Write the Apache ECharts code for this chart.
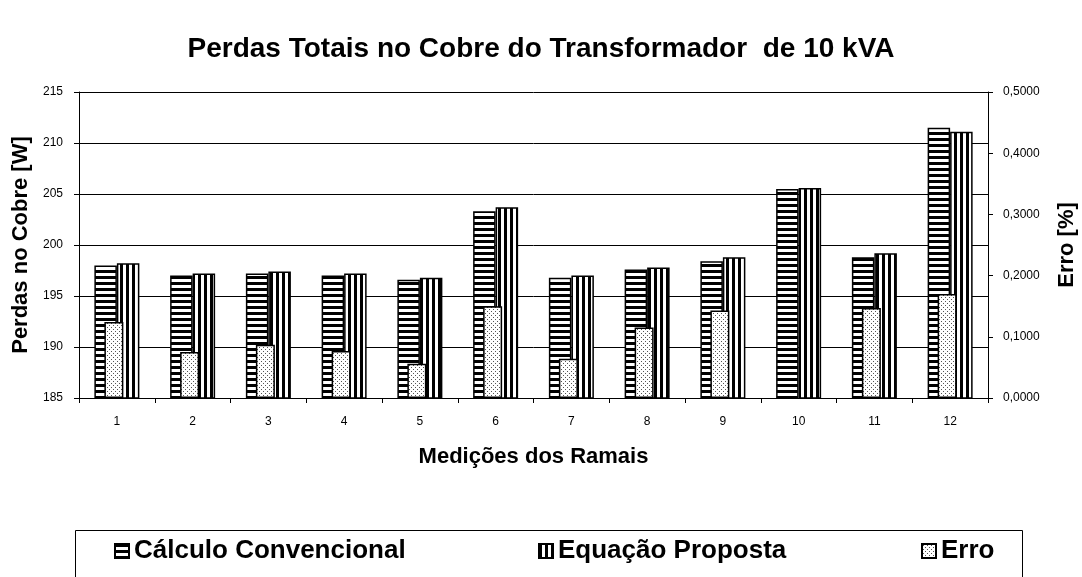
<!DOCTYPE html>
<html>
<head>
<meta charset="utf-8">
<title>Perdas Totais no Cobre</title>
<script src="https://cdn.jsdelivr.net/npm/echarts@6/dist/echarts.min.js"></script>
<style>
  html, body { margin: 0; padding: 0; background: #fff; }
  #chart { width: 1082px; height: 577px; }
</style>
</head>
<body>
<div id="chart"></div>
<script>
// dados
const categorias = ['1', '2', '3', '4', '5', '6', '7', '8', '9', '10', '11', '12'];
const calculoConvencional = [198.0, 197.0, 197.2, 197.0, 196.6, 203.3, 196.8, 197.6, 198.4, 205.5, 198.8, 211.5];
const equacaoProposta = [198.2, 197.2, 197.4, 197.2, 196.8, 203.7, 197.0, 197.8, 198.8, 205.6, 199.2, 211.1];
const erro = [0.124, 0.075, 0.087, 0.077, 0.056, 0.150, 0.064, 0.115, 0.143, null, 0.147, 0.170];
const ticksPerdas = [185, 215, 5];   // min, max, intervalo
const ticksErro = [0, 0.5, 0.1];

const FONT = "'Liberation Sans', Arial, sans-serif";

// a legenda do original usa uma fonte estreita
function temFonte(nome) {
    const ctx = document.createElement('canvas').getContext('2d');
    ctx.font = 'bold 40px monospace';
    const w1 = ctx.measureText('Cálculo Convencional').width;
    ctx.font = "bold 40px '" + nome + "', monospace";
    return ctx.measureText('Cálculo Convencional').width !== w1;
}
const narrow = temFonte('Liberation Sans Narrow');
const legendaFonte = narrow ? "'Liberation Sans Narrow', " + FONT : FONT;
const legendaTamanho = narrow ? 31 : 26;

// padrões de preenchimento (hachuras)
function hachura(tipo) {
    const c = document.createElement('canvas');
    const ctx = c.getContext('2d');
    if (tipo === 'horizontal') {
        c.width = 6; c.height = 6;
        ctx.fillStyle = '#fff'; ctx.fillRect(0, 0, 6, 6);
        ctx.fillStyle = '#000'; ctx.fillRect(0, 0, 6, 3);
    } else if (tipo === 'vertical') {
        c.width = 6; c.height = 6;
        ctx.fillStyle = '#fff'; ctx.fillRect(0, 0, 6, 6);
        ctx.fillStyle = '#000'; ctx.fillRect(0, 0, 3, 6);
    } else {
        c.width = 4; c.height = 4;
        ctx.fillStyle = '#fff'; ctx.fillRect(0, 0, 4, 4);
        ctx.fillStyle = '#555';
        ctx.fillRect(1, 1, 1, 1);
        ctx.fillRect(3, 3, 1, 1);
    }
    return { image: c, repeat: 'repeat' };
}

function legenda(nome, esquerda) {
    return {
        data: [nome],
        left: esquerda,
        top: 538,
        padding: 0,
        icon: 'rect',
        itemWidth: 14,
        itemHeight: 14,
        textStyle: { fontFamily: legendaFonte, fontSize: legendaTamanho, fontWeight: 'bold', color: '#000' }
    };
}

const chart = echarts.init(document.getElementById('chart'));

const option = {
    animation: false,
    backgroundColor: '#fff',
    textStyle: { fontFamily: FONT, color: '#000' },
    title: {
        text: 'Perdas Totais no Cobre do Transformador  de 10 kVA',
        left: 'center',
        top: 30,
        textStyle: { fontFamily: FONT, fontSize: 28, fontWeight: 'bold', color: '#000' }
    },
    legend: [
        legenda('Cálculo Convencional', 114),
        legenda('Equação Proposta', 538),
        legenda('Erro', 921)
    ],
    graphic: [{
        type: 'rect',
        left: 73,
        top: 528,
        shape: { width: 947, height: 80 },
        style: { fill: 'none', stroke: '#000', lineWidth: 1 },
        silent: true
    }],
    grid: { left: 79, right: 94, top: 92, bottom: 179, outerBoundsMode: 'none' },
    xAxis: [
        {
            type: 'category',
            data: categorias,
            name: 'Medições dos Ramais',
            nameLocation: 'middle',
            nameGap: 48,
            nameTextStyle: { fontFamily: FONT, fontSize: 22, fontWeight: 'bold', color: '#000' },
            axisLine: { lineStyle: { color: '#000', width: 1 } },
            axisTick: { show: true, length: 5, lineStyle: { color: '#000' } },
            axisLabel: { fontFamily: FONT, fontSize: 12, color: '#000', margin: 18 }
        },
        {
            type: 'category',
            data: categorias,
            show: false
        }
    ],
    yAxis: [
        {
            type: 'value',
            min: ticksPerdas[0],
            max: ticksPerdas[1],
            interval: ticksPerdas[2],
            position: 'left',
            name: 'Perdas no Cobre [W]',
            nameLocation: 'middle',
            nameRotate: 90,
            nameGap: 45,
            nameTextStyle: { fontFamily: FONT, fontSize: 22, fontWeight: 'bold', color: '#000' },
            axisLine: { show: true, lineStyle: { color: '#000', width: 1 } },
            axisTick: { show: true, length: 5, lineStyle: { color: '#000' } },
            axisLabel: { fontFamily: FONT, fontSize: 12, color: '#000', margin: 16 },
            splitLine: { show: true, lineStyle: { color: '#000', width: 1 } }
        },
        {
            type: 'value',
            min: ticksErro[0],
            max: ticksErro[1],
            interval: ticksErro[2],
            position: 'right',
            name: 'Erro [%]',
            nameLocation: 'middle',
            nameRotate: 90,
            nameGap: 68,
            nameTextStyle: { fontFamily: FONT, fontSize: 22, fontWeight: 'bold', color: '#000' },
            axisLine: { show: true, lineStyle: { color: '#000', width: 1 } },
            axisTick: { show: true, length: 5, lineStyle: { color: '#000' } },
            axisLabel: {
                fontFamily: FONT, fontSize: 12, color: '#000', margin: 15,
                formatter: v => v.toFixed(4).replace('.', ',')
            },
            splitLine: { show: false }
        }
    ],
    series: [
        {
            name: 'Cálculo Convencional',
            type: 'bar',
            xAxisIndex: 0,
            yAxisIndex: 0,
            data: calculoConvencional,
            barWidth: 22.5,
            barGap: 0,
            itemStyle: { color: hachura('horizontal'), borderColor: '#000', borderWidth: 1.5 }
        },
        {
            name: 'Equação Proposta',
            type: 'bar',
            xAxisIndex: 0,
            yAxisIndex: 0,
            data: equacaoProposta,
            barWidth: 22.5,
            barGap: 0,
            itemStyle: { color: hachura('vertical'), borderColor: '#000', borderWidth: 1.5 }
        },
        {
            name: 'Erro',
            type: 'bar',
            xAxisIndex: 1,
            yAxisIndex: 1,
            data: erro,
            barWidth: 19,
            barGap: 0,
            itemStyle: { color: hachura('pontos'), borderColor: '#000', borderWidth: 1.5 }
        },
        {
            // espaço vazio para deslocar a barra de erro como no Excel
            name: '',
            type: 'bar',
            xAxisIndex: 1,
            yAxisIndex: 1,
            data: [],
            barWidth: 6,
            barGap: 0
        }
    ]
};

chart.setOption(option);
window.onresize = function () {
    chart.resize();
};
</script>
</body>
</html>
